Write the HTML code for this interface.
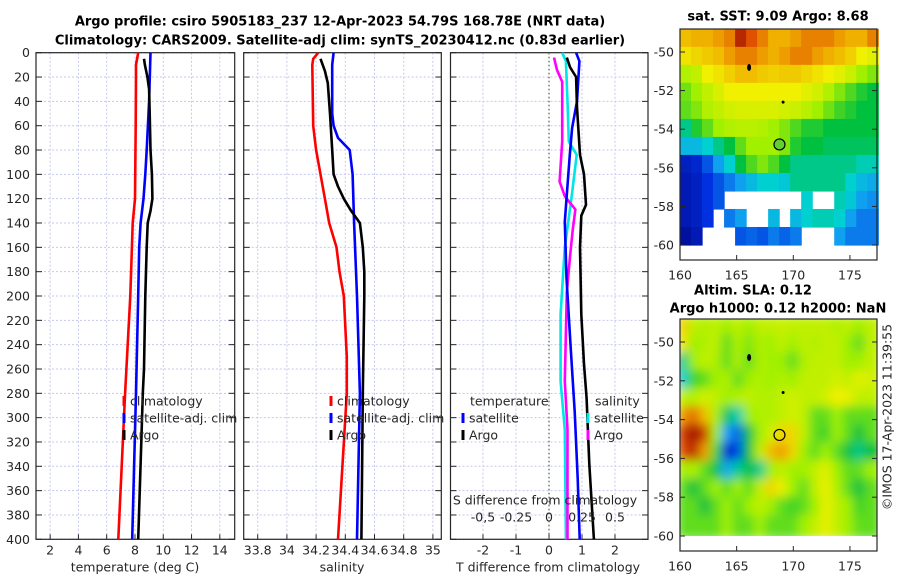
<!DOCTYPE html>
<html><head><meta charset="utf-8">
<style>
html,body{margin:0;padding:0;background:#fff;}
svg{display:block;font-family:"DejaVu Sans","Liberation Sans",sans-serif;}
text{fill:#262626;font-size:12.5px;}
.ttl{font-weight:bold;fill:#000;font-size:13px;}
</style></head>
<body>
<svg id="fig" width="900" height="580" viewBox="0 0 900 580" xmlns="http://www.w3.org/2000/svg">
<defs>
<filter id="blur" x="0" y="0" width="100%" height="100%"><feGaussianBlur stdDeviation="5"/></filter>
<clipPath id="clipSLA"><rect x="680" y="319" width="197" height="217"/></clipPath>
</defs>
<g id="root"></g>
</svg>
<script>
// ---------- data ----------
const depthTicks = [0,20,40,60,80,100,120,140,160,180,200,220,240,260,280,300,320,340,360,380,400];
const tempTicks = [2,4,6,8,10,12,14];
const salTicks = [33.8,34,34.2,34.4,34.6,34.8,35];
const salTickLabels = ["33.8","34","34.2","34.4","34.6","34.8","35"];
const tdiffTicks = [-2,-1,0,1,2];
const sdiffTicks = [-0.5,-0.25,0,0.25,0.5];
const sdiffTickLabels = ["-0,5","-0.25","0","0.25","0.5"];

const climTDepth = [0,10,20,60,120,140,200,280,400];
const climTVal   = [8.23,8.07,8.07,8.05,8.0,7.84,7.67,7.3,6.82];
const satTDepth = [0,40,80,100,120,140,160,200,280,400];
const satTVal   = [9.1,9.0,8.83,8.73,8.6,8.4,8.3,8.23,8.07,7.8];
const argoTDepth = [5,10,20,30,50,80,100,120,130,140,160,200,260,280,320,400];
const argoTVal   = [8.64,8.7,8.88,9.0,9.04,9.1,9.2,9.23,9.1,8.9,8.83,8.73,8.64,8.55,8.45,8.23];

const climSDepth = [0,5,10,60,80,100,120,140,160,180,200,250,280,400];
const climSVal   = [34.215,34.18,34.174,34.18,34.2,34.23,34.26,34.29,34.34,34.36,34.39,34.41,34.41,34.35];
const satSDepth = [0,10,50,60,70,80,100,140,200,280,400];
const satSVal   = [34.32,34.31,34.31,34.32,34.35,34.43,34.45,34.46,34.48,34.5,34.48];
const argoSDepth = [5,15,25,50,80,100,110,120,130,140,160,180,200,280,400];
const argoSVal   = [34.23,34.26,34.28,34.295,34.31,34.32,34.35,34.39,34.44,34.5,34.52,34.53,34.53,34.52,34.51];

const tSatDiffDepth = [0,7,40,62,84,120,139,185,240,295,350,400];
const tSatDiffVal   = [0.82,0.92,0.85,0.7,0.63,0.53,0.48,0.53,0.65,0.78,0.87,0.93];
const tArgoDiffDepth = [4,12,20,45,84,100,125,134,160,215,256,284,338,400];
const tArgoDiffVal   = [0.54,0.64,0.82,0.85,0.94,1.06,1.12,0.98,0.94,0.98,1.06,1.14,1.22,1.36];
const sSatDiffDepth = [0,7,40,73,84,120,160,215,270,310,400];
const sSatDiffVal   = [0.10,0.128,0.14,0.15,0.21,0.17,0.12,0.088,0.088,0.12,0.128];
const sArgoDiffDepth = [4,14,24,73,106,118,129,145,167,197,270,310,400];
const sArgoDiffVal   = [0.038,0.06,0.10,0.10,0.08,0.12,0.2,0.18,0.16,0.135,0.12,0.14,0.14];

const mapLons = [160,161,162,163,164,165,166,167,168,169,170,171,172,173,174,175,176,177];
const mapLats = [-49,-50,-51,-52,-53,-54,-55,-56,-57,-58,-59,-60];
const latTicks = [-50,-52,-54,-56,-58,-60];
const lonTicks = [160,165,170,175];
const N=null;
const sstGrid = [
[0.78,0.8,0.8,0.82,0.85,0.95,0.9,0.85,0.8,0.8,0.82,0.85,0.85,0.85,0.82,0.8,0.8,0.85],
[0.72,0.74,0.76,0.78,0.82,0.85,0.85,0.82,0.8,0.82,0.85,0.85,0.82,0.8,0.78,0.75,0.7,0.68],
[0.62,0.64,0.7,0.72,0.75,0.78,0.78,0.76,0.75,0.76,0.76,0.74,0.72,0.7,0.68,0.65,0.6,0.58],
[0.57,0.6,0.64,0.67,0.7,0.7,0.7,0.7,0.7,0.7,0.7,0.68,0.66,0.62,0.58,0.55,0.52,0.5],
[0.56,0.58,0.62,0.64,0.66,0.67,0.67,0.67,0.67,0.66,0.65,0.63,0.6,0.57,0.54,0.52,0.5,0.5],
[0.45,0.52,0.56,0.6,0.62,0.63,0.63,0.62,0.6,0.58,0.55,0.52,0.52,0.5,0.5,0.5,0.5,0.5],
[0.35,0.35,0.4,0.45,0.5,0.56,0.6,0.6,0.6,0.58,0.52,0.5,0.5,0.48,0.48,0.48,0.48,0.48],
[0.1,0.12,0.2,0.3,0.4,0.5,0.55,0.58,0.55,0.5,0.45,0.45,0.45,0.45,0.45,0.45,0.42,0.42],
[0.08,0.1,0.15,0.2,0.25,0.3,0.35,0.4,0.4,0.38,0.45,0.45,0.45,0.45,0.45,0.4,0.35,0.32],
[0.08,0.1,0.15,0.2,N,N,N,N,N,N,N,0.4,N,N,0.42,0.38,0.3,0.28],
[0.08,0.1,0.15,N,0.25,0.3,N,N,0.35,N,0.35,0.4,0.42,0.42,0.4,0.3,0.25,0.25],
[0.05,0.08,N,N,N,0.2,0.22,0.2,0.25,0.22,0.25,N,N,N,0.3,0.25,0.25,0.25]];
const slaGrid = [
[0.75,0.64,0.62,0.64,0.6,0.64,0.6,0.64,0.64,0.65,0.64,0.64,0.64,0.64,0.62,0.64,0.6,0.64],
[0.72,0.6,0.62,0.64,0.56,0.62,0.58,0.62,0.6,0.64,0.6,0.64,0.62,0.64,0.64,0.6,0.56,0.64],
[0.45,0.6,0.64,0.62,0.56,0.62,0.56,0.62,0.6,0.6,0.56,0.62,0.64,0.64,0.64,0.6,0.6,0.64],
[0.4,0.54,0.56,0.6,0.62,0.56,0.6,0.62,0.6,0.62,0.6,0.64,0.64,0.64,0.66,0.64,0.68,0.66],
[0.64,0.62,0.66,0.64,0.6,0.62,0.64,0.62,0.62,0.64,0.66,0.64,0.64,0.66,0.7,0.69,0.64,0.64],
[0.82,0.87,0.78,0.62,0.48,0.42,0.6,0.62,0.62,0.64,0.66,0.64,0.56,0.56,0.6,0.56,0.56,0.56],
[0.92,0.98,0.92,0.6,0.3,0.22,0.5,0.6,0.66,0.74,0.74,0.64,0.56,0.54,0.6,0.56,0.5,0.56],
[0.9,0.95,0.82,0.55,0.12,0.18,0.5,0.64,0.78,0.82,0.74,0.6,0.56,0.6,0.56,0.5,0.45,0.5],
[0.6,0.62,0.56,0.5,0.32,0.44,0.5,0.44,0.6,0.64,0.6,0.6,0.64,0.68,0.6,0.56,0.56,0.6],
[0.56,0.5,0.56,0.6,0.56,0.6,0.56,0.64,0.74,0.69,0.6,0.56,0.64,0.69,0.62,0.56,0.5,0.56],
[0.56,0.56,0.5,0.56,0.6,0.56,0.6,0.64,0.6,0.56,0.54,0.56,0.6,0.69,0.64,0.6,0.54,0.56],
[0.56,0.56,0.56,0.56,0.6,0.56,0.56,0.6,0.56,0.56,0.56,0.6,0.64,0.69,0.64,0.6,0.56,0.56]];
const argoLon = 168.78, argoLat = -54.79;

// ---------- helpers ----------
const NS="http://www.w3.org/2000/svg";
const root=document.getElementById('root');
function mk(tag,attrs,parent){const e=document.createElementNS(NS,tag);for(const k in attrs)e.setAttribute(k,attrs[k]);(parent||root).appendChild(e);return e;}
function txt(x,y,s,anchor,cls,parent){const t=mk('text',{x:x,y:y,'text-anchor':anchor||'middle','dominant-baseline':'central'},parent);if(cls)t.setAttribute('class',cls);t.textContent=s;return t;}

const Y0=52.7, YK=1.2165, YB=539.3;
const yD=d=>Y0+d*YK;
const x1=t=>36+(t-1)*14.14;
const x2=s=>257.7+(s-33.8)*146;
const x3=v=>549+v*33;
const x3s=v=>549+v*4*33;
const panels=[{l:36,r:234.7},{l:243.7,r:441.3},{l:450.5,r:648}];

function gridAndFrame(p,xt,xf,name){
  const g=mk('g',{});
  
  
  depthTicks.forEach(d=>{const y=yD(d);
    mk('line',{x1:p.l,x2:p.r,y1:y,y2:y,stroke:'#c4c8ee','stroke-width':1,'stroke-dasharray':'2,2'},g);
    mk('line',{x1:p.l,x2:p.l+6,y1:y,y2:y,stroke:'#262626','stroke-width':1},g);
    mk('line',{x1:p.r-6,x2:p.r,y1:y,y2:y,stroke:'#262626','stroke-width':1},g);});
  xt.forEach(v=>{const x=xf(v);
    mk('line',{x1:x,x2:x,y1:Y0,y2:YB,stroke:'#c4c8ee','stroke-width':1,'stroke-dasharray':'2,2'},g);
    mk('line',{x1:x,x2:x,y1:YB-5,y2:YB,stroke:'#262626','stroke-width':1},g);});
  mk('rect',{x:p.l,y:Y0,width:p.r-p.l,height:YB-Y0,fill:'none',stroke:'#262626','stroke-width':1.2},g);
  return g;
}
function line(xs,ds,xf,color,name){
  const pts=xs.map((v,i)=>xf(v).toFixed(1)+','+yD(ds[i]).toFixed(1)).join(' ');
  const pl=mk('polyline',{points:pts,fill:'none',stroke:color,'stroke-width':2.6,'stroke-linejoin':'round'});
  
  
}

// titles
let t=txt(340,22,'Argo profile: csiro 5905183_237 12-Apr-2023 54.79S 168.78E (NRT data)','middle','ttl');


t=txt(340,41,'Climatology: CARS2009. Satellite-adj clim: synTS_20230412.nc (0.83d earlier)','middle','ttl');



// panel 1
gridAndFrame(panels[0],tempTicks,x1,'temperature-panel-grid');
depthTicks.forEach(d=>{const e=txt(30,yD(d),String(d),'end');
  
  });
tempTicks.forEach(v=>{const e=txt(x1(v),550,String(v));
  
  });
t=txt(135,567,'temperature (deg C)');


line(climTVal,climTDepth,x1,'#ff0000','temp-climatology-line');
line(satTVal,satTDepth,x1,'#0000ff','temp-satellite-line');
line(argoTVal,argoTDepth,x1,'#000000','temp-argo-line');

// panel 2
gridAndFrame(panels[1],salTicks,x2,'salinity-panel-grid');
salTicks.forEach((v,i)=>{const e=txt(x2(v),550,salTickLabels[i]);
  
  });
t=txt(342,567,'salinity');


line(climSVal,climSDepth,x2,'#ff0000','sal-climatology-line');
line(satSVal,satSDepth,x2,'#0000ff','sal-satellite-line');
line(argoSVal,argoSDepth,x2,'#000000','sal-argo-line');

// panel 3
gridAndFrame(panels[2],tdiffTicks,x3,'difference-panel-grid');
mk('line',{x1:x3(0),x2:x3(0),y1:Y0,y2:YB,stroke:'#5a6a2a','stroke-width':1.2,'stroke-dasharray':'1.5,2.5'});
tdiffTicks.forEach(v=>{const e=txt(x3(v),550,String(v));
  
  });
t=txt(548,567,'T difference from climatology');


line(sSatDiffVal,sSatDiffDepth,x3s,'#00e5e5','sdiff-satellite-line');
line(sArgoDiffVal,sArgoDiffDepth,x3s,'#ff00ff','sdiff-argo-line');
line(tSatDiffVal,tSatDiffDepth,x3,'#0000ff','tdiff-satellite-line');
line(tArgoDiffVal,tArgoDiffDepth,x3,'#000000','tdiff-argo-line');
t=txt(545,500,'S difference from climatology');


sdiffTicks.forEach((v,i)=>{const e=txt(x3s(v),517,sdiffTickLabels[i]);
  
  });

// legends
function legend(mx,y,color,label,name){
  const g=mk('g',{});
  
  
  if(color) mk('rect',{x:mx-1.5,y:y-5,width:3,height:10,fill:color},g);
  txt(mx+6,y,label,'start',null,g);
}
legend(124,401,'#ff0000','climatology','legend-temp-climatology');
legend(124,418,'#0000ff','satellite-adj. clim','legend-temp-satellite');
legend(124,435,'#000000','Argo','legend-temp-argo');
legend(331,401,'#ff0000','climatology','legend-sal-climatology');
legend(331,418,'#0000ff','satellite-adj. clim','legend-sal-satellite');
legend(331,435,'#000000','Argo','legend-sal-argo');
legend(464,401,null,'temperature','legend-diff-temperature-header');
legend(463,418,'#0000ff','satellite','legend-diff-temp-satellite');
legend(463,435,'#000000','Argo','legend-diff-temp-argo');
legend(589,401,null,'salinity','legend-diff-salinity-header');
legend(588,418,'#00e5e5','satellite','legend-diff-sal-satellite');
legend(588,435,'#ff00ff','Argo','legend-diff-sal-argo');

// ---------- maps ----------
const stops=[[0,[0,0,127]],[0.15,[0,48,224]],[0.3,[16,160,240]],[0.4,[0,208,208]],[0.5,[0,192,64]],[0.6,[160,240,0]],[0.7,[240,240,0]],[0.8,[240,176,0]],[0.9,[224,80,0]],[1,[144,0,0]]];
function cmap(v){v=Math.max(0,Math.min(1,v));for(let i=1;i<stops.length;i++){if(v<=stops[i][0]){const a=stops[i-1],b=stops[i];const f=(v-a[0])/(b[0]-a[0]);const c=a[1].map((q,k)=>Math.round(q+(b[1][k]-q)*f));return 'rgb('+c.join(',')+')';}}return 'rgb(144,0,0)';}
const lonX=lon=>680+(lon-160)*11.33;
function drawMap(top,latY,grid,name,blur){
  const L=680,R=877,B=top===29?260:551;
  const g=mk('g',{});
  
  
  const cells=mk('g',blur?{filter:'url(#blur)','clip-path':'url(#clipSLA)'}:{},g);
  const latTop=-48.8, latBot=-60, rh=(latTop-latBot)/mapLats.length;
  const cw=(177.5-160)/mapLons.length;
  grid.forEach((row,i)=>row.forEach((v,j)=>{
    if(v===null) return;
    const la0=latTop-i*rh, la1=la0-rh, lo0=160+j*cw;
    const c=mk('rect',{x:lonX(lo0)-(blur?3:0),y:latY(la0)-(blur?3:0),width:cw*11.33+(blur?6:0.6),height:latY(la1)-latY(la0)+(blur?6:0.6),fill:cmap(v)},cells);
    
    
  }));
  mk('ellipse',{cx:lonX(166.1),cy:latY(-50.8),rx:2,ry:3.5,fill:'#000'},g);
  mk('circle',{cx:lonX(169.1),cy:latY(-52.6),r:1.5,fill:'#000'},g);
  const m=mk('circle',{cx:lonX(argoLon),cy:latY(argoLat),r:5.5,fill:blur?'none':'#60d030',stroke:'#000','stroke-width':1.2},g);
  
  
  mk('rect',{x:L,y:top,width:R-L,height:B-top,fill:'none',stroke:'#262626','stroke-width':1.2},g);
  latTicks.forEach(la=>{const y=latY(la);
    mk('line',{x1:L,x2:L+5,y1:y,y2:y,stroke:'#262626'},g);
    mk('line',{x1:R-5,x2:R,y1:y,y2:y,stroke:'#262626'},g);
    const e=txt(L-6,y,String(la),'end',null,g);
    
    });
  lonTicks.forEach(lo=>{const x=lonX(lo);
    mk('line',{x1:x,x2:x,y1:B-5,y2:B,stroke:'#262626'},g);
    const e=txt(x,B+15,String(lo),'middle',null,g);
    
    });
}
drawMap(29,la=>52+(-50-la)*19.3,sstGrid,'sst-map',false);
drawMap(319,la=>342+(-50-la)*19.4,slaGrid,'sla-map',true);

t=txt(778,17,'sat. SST: 9.09 Argo: 8.68','middle','ttl');


t=txt(753,291,'Altim. SLA: 0.12','middle','ttl');


t=txt(778,309,'Argo h1000: 0.12 h2000: NaN','middle','ttl');


t=txt(0,0,'©IMOS 17-Apr-2023 11:39:55','middle');
t.setAttribute('transform','translate(887,417) rotate(-90)');


</script>
</body></html>
